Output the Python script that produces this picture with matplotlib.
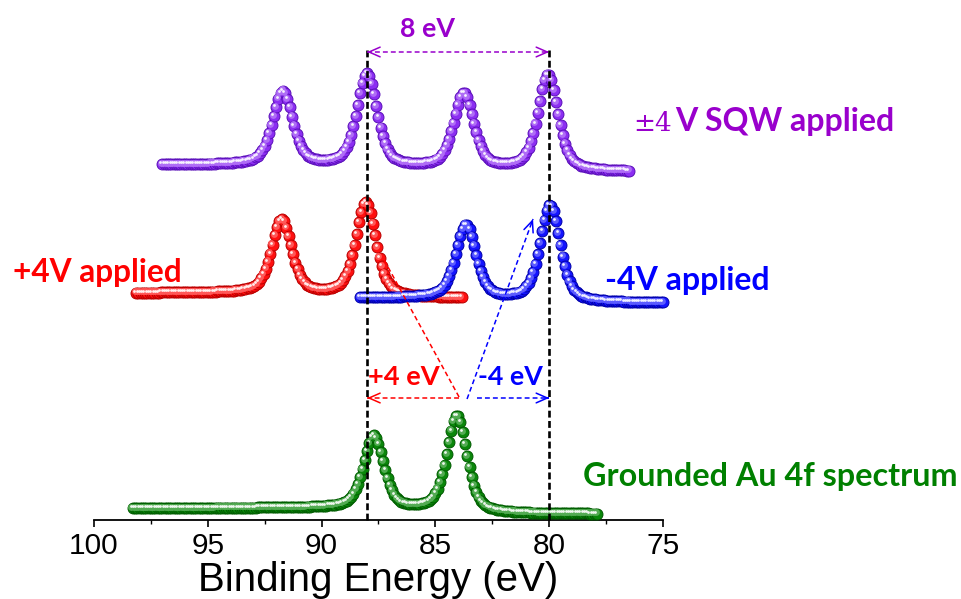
import numpy as np
import matplotlib
matplotlib.use("Agg")
import matplotlib.pyplot as plt
from matplotlib.ticker import MultipleLocator
from matplotlib import transforms

# ---------------- data ----------------
# binding energies of the Au 4f peaks (eV) and peak heights (a.u.)
grounded_peaks = [87.7, 84.05]
grounded_heights = [73, 96]
grounded_range = [98.3, 77.85]
grounded_base = [6, 6]          # background at low-BE end, background step

plus_peaks = [91.75, 88.05]
plus_heights = [74, 94]
plus_range = [98.15, 83.8]
plus_base = [222, 5]

minus_peaks = [83.65, 79.95]
minus_heights = [74, 96]
minus_range = [88.3, 75.0]
minus_base = [217, 5]

sqw_peaks = [91.7, 88.0, 83.75, 80.05]
sqw_heights = [74, 93, 75, 96]
sqw_range = [97.0, 76.45]
sqw_base = [348, 7]

peak_fwhm = 1.05          # eV
lorentz_fraction = 0.5
energy_step = 0.1         # eV

marker_lines = [88.0, 80.0]   # black dashed guide lines (eV)

x_ticks = [100, 95, 90, 85, 80, 75]
x_label = "Binding Energy (eV)"

# ---------------- helpers ----------------
W, H = 962, 599


def spectrum(peaks, heights, erange, base):
    e = np.arange(erange[0], erange[1] - 1e-9, -energy_step)
    g = peak_fwhm / 2.0
    p = np.zeros_like(e)
    for c, h in zip(peaks, heights):
        lor = 1.0 / (1.0 + ((e - c) / g) ** 2)
        gau = np.exp(-np.log(2) * ((e - c) / g) ** 2)
        p += h * (lorentz_fraction * lor + (1 - lorentz_fraction) * gau)
    cum = np.cumsum(p[::-1])[::-1]
    bg = base[0] + base[1] * cum / cum[0]
    return e, bg + p


def lighten(col, f):
    c = np.array(matplotlib.colors.to_rgb(col))
    return tuple(c + (1 - c) * f)


fig = plt.figure(figsize=(W / 100, H / 100), dpi=100)
ax = fig.add_axes([94 / W, 79 / H, 569 / W, 520 / H])
ax.set_facecolor("none")
ax.set_xlim(100, 75)
ax.set_ylim(0, 520)

hl1 = transforms.offset_copy(ax.transData, fig=fig, x=-1.2, y=1.2, units="dots")
hl2 = transforms.offset_copy(ax.transData, fig=fig, x=-1.8, y=2.0, units="dots")


def balls(e, y, face, edge, z):
    ax.scatter(e, y, s=62, c=[face], edgecolors=[edge], linewidths=0.7,
               zorder=z, clip_on=False)
    ax.scatter(e, y, s=24, c=[lighten(face, 0.3)], linewidths=0,
               zorder=z + 0.1, clip_on=False, transform=hl1)
    ax.scatter(e, y, s=4, c=["white"], alpha=0.9, linewidths=0,
               zorder=z + 0.2, clip_on=False, transform=hl2)


series = [
    (grounded_peaks, grounded_heights, grounded_range, grounded_base, "#0a870a", "#005a00", 3),
    (plus_peaks, plus_heights, plus_range, plus_base, "#ff1010", "#b80000", 3.3),
    (minus_peaks, minus_heights, minus_range, minus_base, "#1414ff", "#0000a8", 3.6),
    (sqw_peaks, sqw_heights, sqw_range, sqw_base, "#8c2ef2", "#5a10b8", 3.9),
]
for pk, hh, rg, bs, fc, ec, z in series:
    e, y = spectrum(pk, hh, rg, bs)
    balls(e, y, fc, ec, z)

# ---------------- axis ----------------
for s in ["top", "right", "left"]:
    ax.spines[s].set_visible(False)
ax.spines["bottom"].set_linewidth(1.3)
ax.set_yticks([])
ax.set_xticks(x_ticks)
ax.set_xticklabels([str(t) for t in x_ticks], family="Liberation Sans")
ax.xaxis.set_minor_locator(MultipleLocator(2.5))
ax.tick_params(axis="x", which="major", direction="out", length=5, width=1.2,
               labelsize=21.5, pad=3.5)
ax.tick_params(axis="x", which="minor", direction="out", length=3, width=1.0)
ax.set_xlabel(x_label, family="Liberation Sans", fontsize=29)
ax.xaxis.label.set_va("baseline")
ax.xaxis.set_label_coords(0.5, -(591 - 520) / 520)

# ---------------- guide lines and arrows ----------------
for xv in marker_lines:
    ax.plot([xv, xv], [0, 470], color="black", lw=1.9, dashes=(2.6, 1.3),
            zorder=6, clip_on=False)


def dashed_arrow(p0, p1, color, head_end=True, head_start=False, lw=1.1):
    ax.plot([p0[0], p1[0]], [p0[1], p1[1]], color=color, lw=lw,
            dashes=(3.2, 2.0), zorder=7, clip_on=False)
    props = dict(arrowstyle="->,head_length=0.8,head_width=0.35", color=color,
                 lw=lw, shrinkA=0, shrinkB=0)
    d = (p1[0] - p0[0], p1[1] - p0[1])
    if head_end:
        ax.annotate("", xy=p1, xytext=(p1[0] - 0.02 * d[0], p1[1] - 0.02 * d[1]),
                    arrowprops=props, zorder=7, annotation_clip=False)
    if head_start:
        ax.annotate("", xy=p0, xytext=(p0[0] + 0.02 * d[0], p0[1] + 0.02 * d[1]),
                    arrowprops=props, zorder=7, annotation_clip=False)


dashed_arrow((marker_lines[0], 468), (marker_lines[1], 468), "#9900cc",
             head_end=True, head_start=True)
dashed_arrow((83.96, 122), (marker_lines[0], 122), "#ff0000")
dashed_arrow((83.17, 122), (marker_lines[1], 122), "#0000ff")
dashed_arrow((83.96, 123), (87.30, 262), "#ff0000", head_end=False)
dashed_arrow((83.61, 121), (80.71, 301), "#0000ff")

# ---------------- texts ----------------
renderer = fig.canvas.get_renderer()


def fit_text(s, left, base, width, color, family="Lato", weight="bold"):
    t = fig.text(left / W, 1 - base / H, s, ha="left", va="baseline",
                 fontsize=20, color=color, family=family, weight=weight, zorder=8)
    w = t.get_window_extent(renderer).width
    t.set_fontsize(20 * width / w)
    return t


fit_text("8 eV", 400, 36.7, 55, "#9900cc")
fit_text("±4", 633, 130.7, 39, "#9900cc", family="DejaVu Serif", weight="normal")
fit_text("V SQW applied", 675, 130.7, 220, "#9900cc")
fit_text("+4V applied", 13.4, 282, 169.6, "#ff0000")
fit_text("-4V applied", 605, 290, 165, "#0000ff")
fit_text("+4 eV", 368.3, 385, 71.7, "#ff0000")
fit_text("-4 eV", 478.3, 385, 65, "#0000ff")
fit_text("Grounded Au 4f spectrum", 583.3, 486, 374.7, "#008000")

fig.savefig("out.png", dpi=100)
